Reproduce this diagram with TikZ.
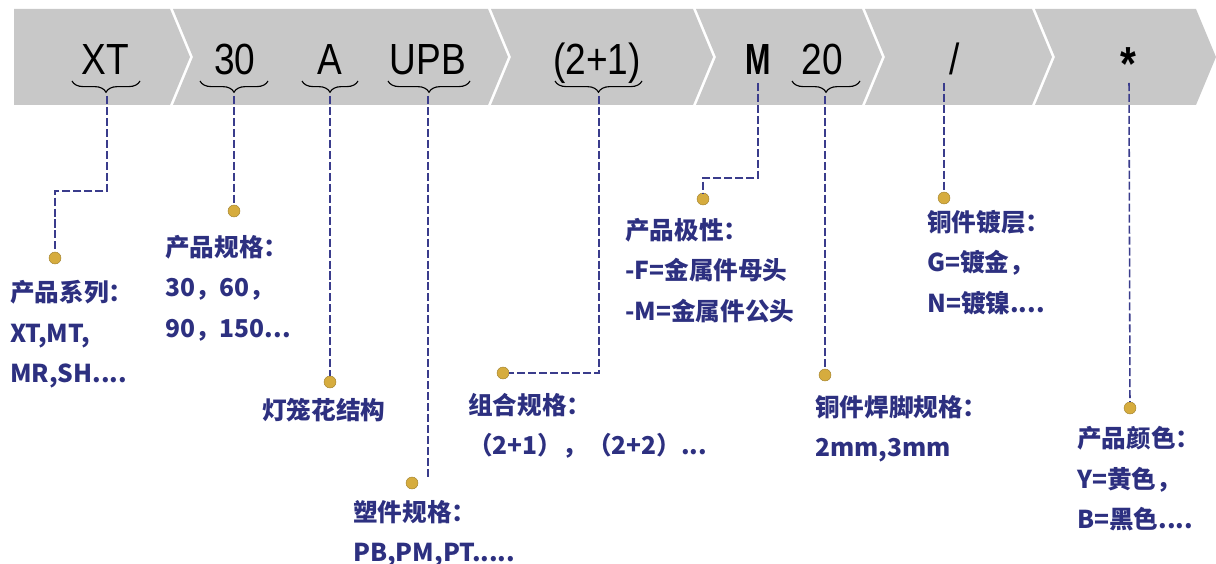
\documentclass[tikz,border=0pt]{standalone}
\usepackage{fontspec}
\usetikzlibrary{decorations.pathreplacing}
\usetikzlibrary{calc}
\setmainfont{Liberation Sans}
\newfontfamily\codefont[FakeStretch=0.85]{Liberation Sans}
\newfontfamily\narrowfont[FakeStretch=0.7]{Liberation Sans}
\newfontfamily\cjk{Noto Sans CJK SC}
\definecolor{band}{RGB}{200,200,200}
\definecolor{ink}{RGB}{45,48,128}
\definecolor{lead}{RGB}{58,60,140}
\definecolor{gold}{RGB}{214,172,62}
\newcommand{\segm}[2] % left x, right x of top edge, in px
{
	% arrow segment with notch on the left
	\fill[band] (#1,9) -- (#2,9) -- (#2+20,57) -- (#2,105) -- (#1,105) -- (#1+20,57) -- cycle;
}

\begin{document}
\begin{tikzpicture}[x=0.025cm, y=-0.025cm,
	code/.style={font=\codefont\fontsize{31}{31}\selectfont, anchor=base, inner sep=0},
	leader/.style={draw=lead, line width=1.1pt, dash pattern=on 5.7pt off 2.1pt},
	knob/.style={circle, fill=gold, draw=gold!75!black, line width=0.3pt, inner sep=0, minimum size=0.3cm},
	info/.style={font=\cjk\bfseries\fontsize{17.5}{28.8}\selectfont, text=ink, align=left, anchor=north west, inner sep=0},
	curly/.style={decorate, decoration={brace, amplitude=8pt}, line width=0.8pt}]
	% 1216 x 564 px, one unit = one px
	\useasboundingbox (0,0) rectangle (1216,564);
	% banner
	\fill[band] (14,9) -- (170,9) -- (190,57) -- (170,105) -- (14,105) -- cycle;
	\segm{173}{488}
	\segm{491}{693}
	\segm{696}{862}
	\segm{865}{1032}
	\segm{1035}{1196}

	% code letters
	\node[code] (xt) at (105,75) {XT};
	\node[code] (n30) at (235,75) {30};
	\node[code] (a) at (330,75) {A};
	\node[code] (upb) at (428,75) {UPB};
	\node[code] (comb) at (597,75) {(2+1)};
	\node[code, font=\narrowfont\bfseries\fontsize{31}{31}\selectfont] (m) at (758,75) {M};
	\node[code] (n20) at (822,75) {20};
	\node[code] (slash) at (955,75) {/};
	\node[code, anchor=center, font=\codefont\bfseries\fontsize{34}{34}\selectfont] (star) at (1128,64) {*};

	% braces
	\draw[curly] (140,81) -- (72,81);
	\draw[curly] (268,81) -- (200,81);
	\draw[curly] (358,81) -- (302,81);
	\draw[curly] (470,81) -- (388,81);
	\draw[curly] (642,81) -- (555,81);
	\draw[curly] (860,81) -- (792,81);
	\coordinate (bxt) at (107,96);
	\coordinate (b30) at (234,96);
	\coordinate (ba) at (330,96);
	\coordinate (bupb) at (428,96);
	\coordinate (bcomb) at (599,96);
	\coordinate (bm) at (758,83);
	\coordinate (b20) at (825,96);
	\coordinate (bslash) at (944,83);
	\coordinate (bstar) at (1129,83);
	\coordinate (upbend) at (428,477);

	% end dots
	\node[knob] (k1) at (55,258) {};
	\node[knob] (k2) at (234,211) {};
	\node[knob] (k3) at (330,382) {};
	\node[knob] (k4) at (412,483) {};
	\node[knob] (k5) at (503,373) {};
	\node[knob] (k6) at (703,199) {};
	\node[knob] (k7) at (825,375) {};
	\node[knob] (k8) at (944,198) {};
	\node[knob] (k9) at (1130,408) {};

	% leaders
	\draw[leader] (bxt) -- ++(0,95) -| (k1);
	\draw[leader] (b30) -- (k2);
	\draw[leader] (ba) -- (k3);
	\draw[leader] (bupb) -- (upbend);
	\draw[leader] (bcomb) |- (k5);
	\draw[leader] (bm) -- ++(0,95) -| (k6);
	\draw[leader] (b20) -- (k7);
	\draw[leader] (bslash) -- (k8);
	\draw[leader] (bstar) -- (k9);

	% texts
	\node[info] (series) at (10,280) {产品系列：\\XT,MT,\\MR,SH....};
	\node[info] (size) at (165,235) {产品规格：\\30，60，\\90，150...};
	\node[info] (lantern) at (262,398) {灯笼花结构};
	\node[info] (plastic) at (353,500) {塑件规格：\\PB,PM,PT.....};
	\node[info] (group) at (468,393) {组合规格：\\（2+1），（2+2）...};
	\node[info] (polar) at (625,218) {产品极性：\\-F=金属件母头\\-M=金属件公头};
	\node[info] (plating) at (927,210) {铜件镀层：\\G=镀金，\\N=镀镍....};
	\node[info] (pin) at (815,395) {铜件焊脚规格：\\2mm,3mm};
	\node[info] (colour) at (1077,426) {产品颜色：\\Y=黄色，\\B=黑色....};
\end{tikzpicture}
\end{document}
